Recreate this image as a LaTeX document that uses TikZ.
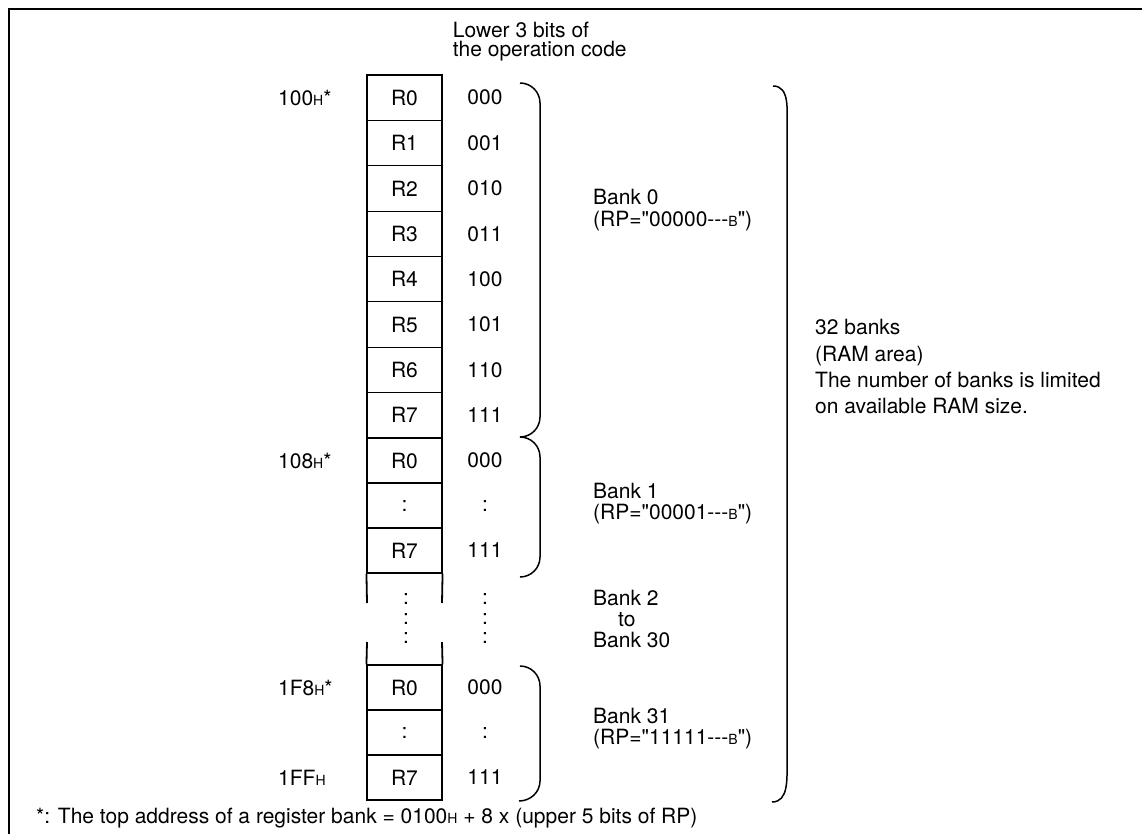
\documentclass[tikz,border=0pt]{standalone}
\usepackage{fontspec}
\newfontfamily\heros{TeX Gyre Heros}
\newcommand\sml[1]{{\fontsize{14}{14}\selectfont #1}}
\newcommand\dsh{-\kern0pt-\kern0pt-}
\begin{document}
\begin{tikzpicture}[x=1pt,y=-1pt,
  font=\heros\fontsize{21}{20}\selectfont,
  cell/.style={draw,line width=1.1pt,minimum width=75pt,minimum height=#1,inner sep=0pt},
  code/.style={inner sep=0pt},
  lbl/.style={anchor=base west,inner sep=0pt},
  brace/.style={line width=1.5pt},
  outer/.style={line width=1.8pt},
  frame/.style={line width=1.4pt}]
\useasboundingbox (0,0) rectangle (1142,834);
% frame (top and left only)
\coordinate (ftr) at (1142,9);
\coordinate (ftl) at (9,9);
\coordinate (fbl) at (9,834);
\draw[frame] (ftr) -- (ftl) -- (fbl);
% heading
\node[lbl] (h1) at (452.7,37.3) {Lower 3 bits of};
\node[lbl] (h2) at (452.7,56.7) {the operation code};
% bank 0
\foreach \i/\r/\c in {0/R0/000,1/R1/001,2/R2/010,3/R3/011,4/R4/100,5/R5/101,6/R6/110,7/R7/111}{
  \pgfmathsetmacro\yc{75+45.375*(\i+0.5)}
  \node[cell=45.375pt] (b0r\i) at (404.5,\yc) {\r};
  \node[code] (b0c\i) at (485,\yc) {\c};
}
\draw[outer] (b0r0.north west) rectangle (b0r7.south east);
% bank 1
\foreach \i/\r/\c in {0/R0/000,1/:/:,2/R7/111}{
  \pgfmathsetmacro\yc{438+45*(\i+0.5)}
  \node[cell=45pt] (b1r\i) at (404.5,\yc) {\r};
  \node[code] (b1c\i) at (485,\yc) {\c};
}
\draw[outer] (b1r0.north west) rectangle (b1r2.south east);
% bank 31
\foreach \i/\r/\c in {0/R0/000,1/:/:,2/R7/111}{
  \pgfmathsetmacro\yc{665+45*(\i+0.5)}
  \node[cell=45pt] (b31r\i) at (404.5,\yc) {\r};
  \node[code] (b31c\i) at (485,\yc) {\c};
}
\draw[outer] (b31r0.north west) rectangle (b31r2.south east);
% gap lines
\coordinate (gl1) at (367,603); \coordinate (gl2) at (367,642);
\coordinate (gr1) at (442,603); \coordinate (gr2) at (442,642);
\draw[outer] (b1r2.south west) -- (gl1) (gl2) -- (b31r0.north west);
\draw[outer] (b1r2.south east) -- (gr1) (gr2) -- (b31r0.north east);
% gap dots
\foreach \k/\yy in {1/599,2/619,3/638}{
  \node[code] (gd\k) at (406,\yy) {:};
  \node[code] (gc\k) at (485,\yy) {:};
}
% addresses
\node[lbl] (a100) at (278,106) {100\sml{H}*};
\node[lbl] (a108) at (278,468) {108\sml{H}*};
\node[lbl] (a1F8) at (278,695) {1F8\sml{H}*};
\node[lbl] (a1FF) at (278,785) {1FF\sml{H}};
% braces
\coordinate (p0a) at (520,83);  \coordinate (p0b) at (540,103);
\coordinate (p0c) at (540,417); \coordinate (p0d) at (520,437);
\draw[brace] (p0a) to[out=0,in=90] (p0b) -- (p0c) to[out=-90,in=0] (p0d);
\coordinate (p1b) at (540,457); \coordinate (p1c) at (540,557); \coordinate (p1d) at (520,577);
\draw[brace] (p0d) to[out=0,in=90] (p1b) -- (p1c) to[out=-90,in=0] (p1d);
\coordinate (p3a) at (520,666); \coordinate (p3b) at (540,686);
\coordinate (p3c) at (540,781); \coordinate (p3d) at (519,801);
\draw[brace] (p3a) to[out=0,in=90] (p3b) -- (p3c) to[out=-90,in=0] (p3d);
\coordinate (pba) at (773,86);  \coordinate (pbb) at (787,127);
\coordinate (pbc) at (787,762); \coordinate (pbd) at (772,802);
\draw[brace] (pba) to[out=0,in=90] (pbb) -- (pbc) to[out=-90,in=0] (pbd);
% bank labels
\node[lbl] (k0a) at (593,205) {Bank 0};
\node[lbl] (k0b) at (593,226.5) {(RP="00000\dsh\sml{B}")};
\node[lbl] (k1a) at (593,498) {Bank 1};
\node[lbl] (k1b) at (593,519) {(RP="00001\dsh\sml{B}")};
\node[lbl] (k2a) at (593,605) {Bank 2};
\node[lbl] (k2b) at (618,626) {to};
\node[lbl] (k2c) at (593,647) {Bank 30};
\node[lbl] (k31a) at (593,723) {Bank 31};
\node[lbl] (k31b) at (593,744) {(RP="11111\dsh\sml{B}")};
% 32 banks
\node[lbl] (t1) at (815,334) {32 banks};
\node[lbl] (t2) at (815,361) {(RAM area)};
\node[lbl] (t3) at (815,387) {The number of banks is limited};
\node[lbl] (t4) at (815,413) {on available RAM size.};
% footnote
\node[lbl] (fn) at (36,823) {*: The top address of a register bank = 0100\sml{H} + 8 x (upper 5 bits of RP)};
\end{tikzpicture}
\end{document}
